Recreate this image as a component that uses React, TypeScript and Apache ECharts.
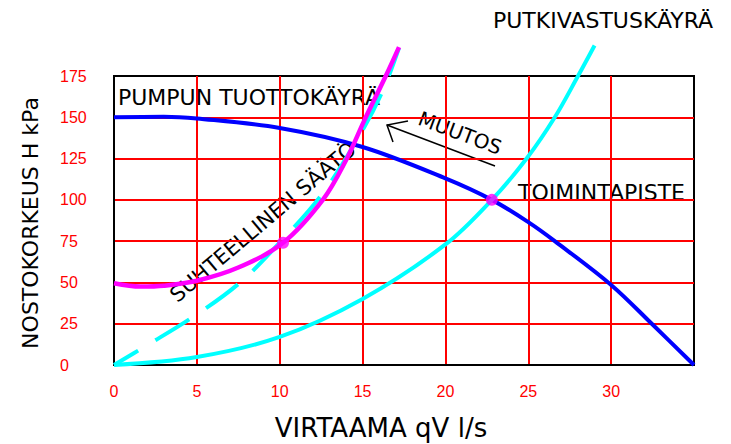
import { useEffect, useRef } from "react";
import * as echarts from "echarts";

// Flow qV (l/s) vs. head H (kPa)
const pumpCurve: number[][] = [
  [0, 150], [3, 150.4], [5, 149.3], [10, 143.5], [15, 132], [20, 113],
  [22.8, 100], [25, 86.5], [26.6, 75], [30, 48.5], [32.5, 24.5], [35, 0],
];
const pipeCurve: number[][] = [
  [0, 0], [5, 4.8], [10, 17], [15, 40], [20, 73], [22.8, 100],
  [24.9, 125], [26.6, 150], [28, 175], [29, 193.5],
];
const proportionalCurve: number[][] = [
  [0, 49.5], [1.6, 47.5], [3, 48], [5, 51], [7.5, 59], [10.2, 74],
  [12.6, 100], [14, 124], [15.1, 148], [16.4, 175], [17.2, 192.5],
];
const dashedPipeCurve: number[][] = [
  [0, 0], [2, 12], [4.6, 28], [7.5, 49], [9.8, 72], [12.6, 104],
  [15.1, 144], [16.3, 168], [17.2, 192],
];
const operatingPoints: number[][] = [
  [10.2, 74],
  [22.8, 100],
];

const TEXT_FONT = "DejaVu Sans";
const NUM_FONT = "Liberation Sans";

export default function App() {
  const ref = useRef<HTMLDivElement>(null);

  useEffect(() => {
    const chart = echarts.init(ref.current!, null, { renderer: "svg" });
    const label = (text: string, x: number, y: number, extra: any = {}) => ({
      type: "text",
      x,
      y,
      rotation: extra.rotation ?? 0,
      style: {
        text,
        fill: "#000",
        font: `normal ${extra.size ?? 22}px "${TEXT_FONT}"`,
        align: extra.align ?? "left",
        verticalAlign: "middle",
      },
    });

    const curve = (data: number[][], color: string, width: number, z: number, dashed = false) => ({
      type: "line",
      data,
      smooth: 0.35,
      showSymbol: false,
      clip: false,
      lineStyle: dashed
        ? { color, width, type: [40, 20], dashOffset: 12 }
        : { color, width },
      z,
    });

    chart.setOption({
      animation: false,
      grid: {
        left: 114,
        right: 37,
        top: 76,
        bottom: 79,
        show: true,
        borderColor: "#000",
        borderWidth: 2,
        backgroundColor: "transparent",
      },
      xAxis: {
        type: "value",
        min: 0,
        max: 35,
        interval: 5,
        axisLine: { show: true, lineStyle: { color: "#000", width: 2 } },
        axisTick: { show: false },
        axisLabel: {
          color: "#ff0000",
          fontSize: 16,
          fontFamily: NUM_FONT,
          margin: 18,
          showMaxLabel: false,
        },
        splitLine: {
          show: true,
          showMinLine: false,
          showMaxLine: false,
          lineStyle: { color: "#ff0000", width: 2 },
        },
      },
      yAxis: {
        type: "value",
        min: 0,
        max: 175,
        interval: 25,
        axisLine: { show: true, lineStyle: { color: "#000", width: 2 } },
        axisTick: { show: false },
        axisLabel: {
          color: "#ff0000",
          fontSize: 16,
          fontFamily: NUM_FONT,
          margin: 54,
          align: "left",
        },
        splitLine: {
          show: true,
          showMinLine: false,
          showMaxLine: false,
          lineStyle: { color: "#ff0000", width: 2 },
        },
      },
      graphic: [
        label("PUMPUN TUOTTOKÄYRÄ", 118, 97),
        label("PUTKIVASTUSKÄYRÄ", 493, 20),
        label("TOIMINTAPISTE", 518, 192),
        label("MUUTOS", 460, 133, { align: "center", rotation: -0.36, size: 20 }),
        label("SUHTEELLINEN SÄÄTÖ", 263, 222, { align: "center", rotation: 0.7, size: 21 }),
        label("VIRTAAMA qV l/s", 381, 428, { align: "center", size: 26 }),
        label("NOSTOKORKEUS H kPa", 30, 223, { align: "center", rotation: Math.PI / 2, size: 22 }),
        {
          type: "line",
          shape: { x1: 495, y1: 166, x2: 387, y2: 125 },
          style: { stroke: "#000", lineWidth: 1.5 },
        },
        {
          type: "polyline",
          shape: { points: [[408, 121], [387, 125], [393, 142]] },
          style: { stroke: "#000", lineWidth: 1.5, fill: "none" },
        },
      ],
      series: [
        curve(pumpCurve, "#0000ff", 4, 3),
        curve(pipeCurve, "#00ffff", 4, 3),
        curve(dashedPipeCurve, "#00ffff", 4, 3, true),
        curve(proportionalCurve, "#ff00ff", 4.5, 4),
        {
          type: "scatter",
          data: operatingPoints,
          symbolSize: 12,
          itemStyle: { color: "#ff00ff" },
          z: 5,
        },
      ],
    });
    return () => chart.dispose();
  }, []);

  return (
    <div
      ref={ref}
      style={{ position: "fixed", left: 0, top: 0, width: 731, height: 444, background: "#fff" }}
    />
  );
}
